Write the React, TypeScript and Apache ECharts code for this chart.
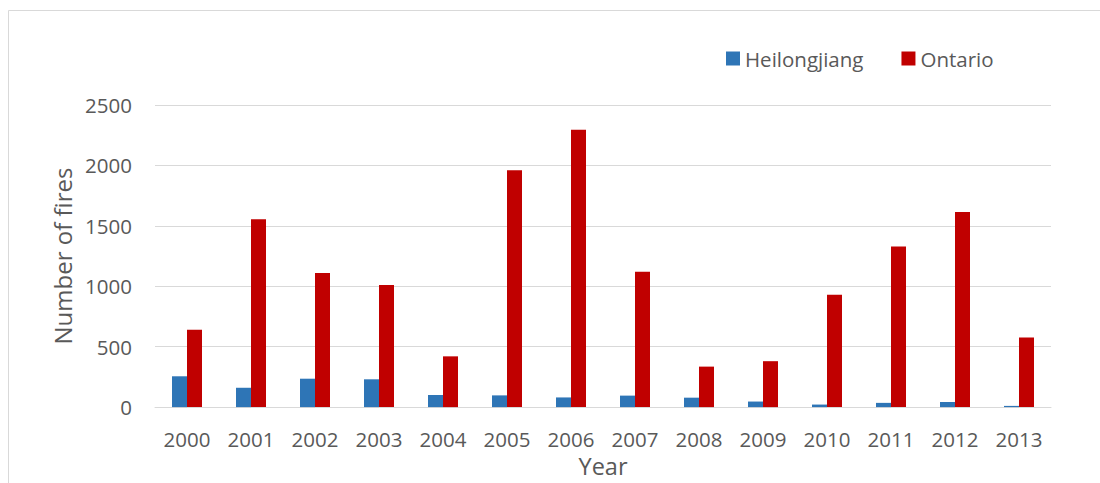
import React, { useEffect, useRef } from "react";
import * as echarts from "echarts";

const years = ["2000", "2001", "2002", "2003", "2004", "2005", "2006", "2007", "2008", "2009", "2010", "2011", "2012", "2013"];
const heilongjiang = [255, 160, 235, 230, 100, 97, 80, 95, 78, 46, 21, 35, 42, 10];
const ontario = [640, 1555, 1110, 1010, 420, 1960, 2295, 1120, 335, 380, 930, 1330, 1615, 575];

const FONT = "'Open Sans', sans-serif";
const TEXT = "#595959";
const GRID = "#D9D9D9";

export default function App() {
  const ref = useRef<HTMLDivElement>(null);

  useEffect(() => {
    document.body.style.margin = "0";
    if (!ref.current) return;
    const chart = echarts.init(ref.current, null, { renderer: "svg" });
    chart.setOption({
      animation: false,
      backgroundColor: "#fff",
      textStyle: { fontFamily: FONT, color: TEXT },
      graphic: [
        {
          type: "rect",
          shape: { x: 8.5, y: 10.5, width: 1300, height: 700 },
          style: { fill: "none", stroke: GRID, lineWidth: 1 },
          silent: true,
        },
      ],
      legend: {
        left: 726,
        top: 48,
        padding: 0,
        itemWidth: 14,
        itemHeight: 14,
        itemGap: 38,
        icon: "rect",
        textStyle: { fontFamily: FONT, fontSize: 20.5, color: TEXT, lineHeight: 20 },
        data: ["Heilongjiang", "Ontario"],
      },
      grid: { left: 155, right: 49, top: 105, bottom: 75, containLabel: false },
      xAxis: {
        type: "category",
        data: years,
        name: "Year",
        nameLocation: "middle",
        nameGap: 41,
        nameTextStyle: { fontFamily: FONT, fontSize: 23.5, color: TEXT },
        axisLine: { lineStyle: { color: GRID, width: 1 } },
        axisTick: { show: false },
        axisLabel: { fontFamily: FONT, fontSize: 20.5, color: TEXT, margin: 21 },
      },
      yAxis: {
        type: "value",
        min: 0,
        max: 2500,
        interval: 500,
        name: "Number of fires",
        nameLocation: "middle",
        nameGap: 80,
        nameTextStyle: { fontFamily: FONT, fontSize: 24, color: TEXT },
        axisLine: { show: false },
        axisTick: { show: false },
        axisLabel: {
          fontFamily: FONT,
          fontSize: 20.5,
          color: TEXT,
          margin: 23,
          formatter: (v: number) => String(v),
        },
        splitLine: { lineStyle: { color: GRID, width: 1 } },
      },
      series: [
        {
          name: "Heilongjiang",
          type: "bar",
          data: heilongjiang,
          barWidth: 15,
          barGap: "0%",
          itemStyle: { color: "#2E75B6" },
        },
        {
          name: "Ontario",
          type: "bar",
          data: ontario,
          barWidth: 15,
          barGap: "0%",
          itemStyle: { color: "#C00000" },
        },
      ],
    });
    return () => chart.dispose();
  }, []);

  return <div ref={ref} style={{ position: "absolute", left: 0, top: 0, width: 1100, height: 483 }} />;
}
